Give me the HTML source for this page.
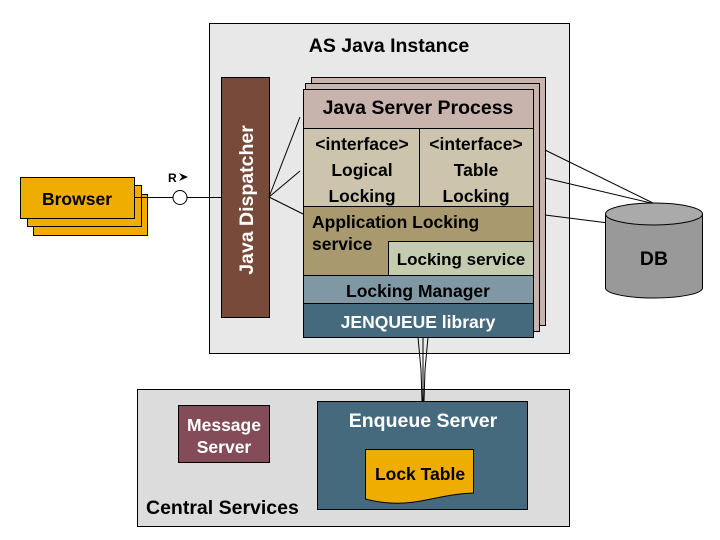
<!DOCTYPE html>
<html><head><meta charset="utf-8"><style>
html,body{margin:0;padding:0;background:#fff;width:720px;height:540px;overflow:hidden}
text{font-family:"Liberation Sans",Arial,sans-serif;font-weight:bold}
</style></head><body>
<svg width="720" height="540" viewBox="0 0 720 540" xmlns="http://www.w3.org/2000/svg">
<rect x="209.5" y="23.5" width="360" height="330" fill="#e8e8e8" stroke="#000"/>
<text x="389" y="52" font-size="19.5" text-anchor="middle">AS Java Instance</text>
<rect x="137.5" y="389.5" width="432" height="137" fill="#dcdcdc" stroke="#000"/>
<text x="146" y="514" font-size="19.5">Central Services</text>
<path d="M418 337 L421 370 L422 401 M423 337 L423 401 M428 337 L425 370 L424 401" stroke="#000" fill="none"/>
<rect x="33.5" y="194.5" width="114" height="41" fill="#eead00" stroke="#000"/>
<rect x="27.5" y="185.5" width="114" height="41" fill="#eead00" stroke="#000"/>
<rect x="20.5" y="177.5" width="114" height="41" fill="#eead00" stroke="#000"/>
<text x="77" y="205" font-size="17.5" text-anchor="middle">Browser</text>
<line x1="134" y1="197.5" x2="222" y2="197.5" stroke="#000"/>
<circle cx="180" cy="197.5" r="7" fill="#fff" stroke="#000"/>
<text x="168" y="182" font-size="12">R</text>
<path d="M179 173 L188 177 L179 181 L182 177 Z" fill="#000"/>
<rect x="221.5" y="77.5" width="48" height="240" fill="#774a3a" stroke="#000"/>
<text transform="translate(253,200) rotate(-90)" font-size="19.5" fill="#fff" text-anchor="middle">Java Dispatcher</text>
<path d="M269 197 L300 117 M269 197 L300 171 M269 197 L303 214" stroke="#000" fill="none"/>
<path d="M545 150 L655 204 M545 178 L655 204 M545 215 L640 227" stroke="#000" fill="none"/>
<rect x="311.5" y="77.5" width="234" height="248" fill="#c8b4ac" stroke="#000"/>
<rect x="305.5" y="83.5" width="234" height="248" fill="#c8b4ac" stroke="#000"/>
<rect x="303.5" y="89.5" width="230" height="39" fill="#c8b4ac" stroke="#000"/>
<text x="418" y="114" font-size="19.5" text-anchor="middle">Java Server Process</text>
<rect x="303.5" y="128.5" width="116" height="78" fill="#ccc4ac" stroke="#000"/>
<rect x="419.5" y="128.5" width="114" height="78" fill="#ccc4ac" stroke="#000"/>
<g font-size="17.5" text-anchor="middle">
<text x="362" y="150">&lt;interface&gt;</text><text x="362" y="176">Logical</text><text x="362" y="202">Locking</text>
<text x="476" y="150">&lt;interface&gt;</text><text x="476" y="176">Table</text><text x="476" y="202">Locking</text>
</g>
<rect x="303.5" y="206.5" width="230" height="69" fill="#a89a6e" stroke="#000"/>
<text x="312" y="228" font-size="17.5">Application Locking</text>
<text x="312" y="250" font-size="17.5">service</text>
<rect x="388.5" y="241.5" width="145" height="34" fill="#c4ccb0" stroke="#000"/>
<text x="461" y="265" font-size="17" text-anchor="middle">Locking service</text>
<rect x="303.5" y="275.5" width="230" height="28" fill="#7f98a4" stroke="#000"/>
<text x="418" y="297" font-size="17.5" text-anchor="middle">Locking Manager</text>
<rect x="303.5" y="303.5" width="230" height="34" fill="#456a7e" stroke="#000"/>
<text x="418" y="328" font-size="17.5" fill="#fff" text-anchor="middle">JENQUEUE library</text>
<path d="M605.5 214 L605.5 288 A48.5 10 0 0 0 702.5 288 L702.5 214" fill="#999" stroke="#000"/>
<ellipse cx="654" cy="214" rx="48.5" ry="11" fill="#aaa" stroke="#000"/>
<text x="654" y="265" font-size="19.5" text-anchor="middle">DB</text>
<rect x="178.5" y="405.5" width="91" height="57" fill="#844c58" stroke="#000"/>
<text x="224" y="431" font-size="17.5" fill="#fff" text-anchor="middle">Message</text>
<text x="224" y="453" font-size="17.5" fill="#fff" text-anchor="middle">Server</text>
<rect x="317.5" y="401.5" width="210" height="108" fill="#456a7e" stroke="#000"/>
<text x="423" y="427" font-size="19.5" fill="#fff" text-anchor="middle">Enqueue Server</text>
<path d="M365.5 449.5 L473.5 449.5 L473.5 493 C440 494 420 505 390 503 C375 502 370 500 365.5 499 Z" fill="#eead00" stroke="#000"/>
<text x="420" y="480" font-size="17.5" text-anchor="middle">Lock Table</text>
</svg>
</body></html>
